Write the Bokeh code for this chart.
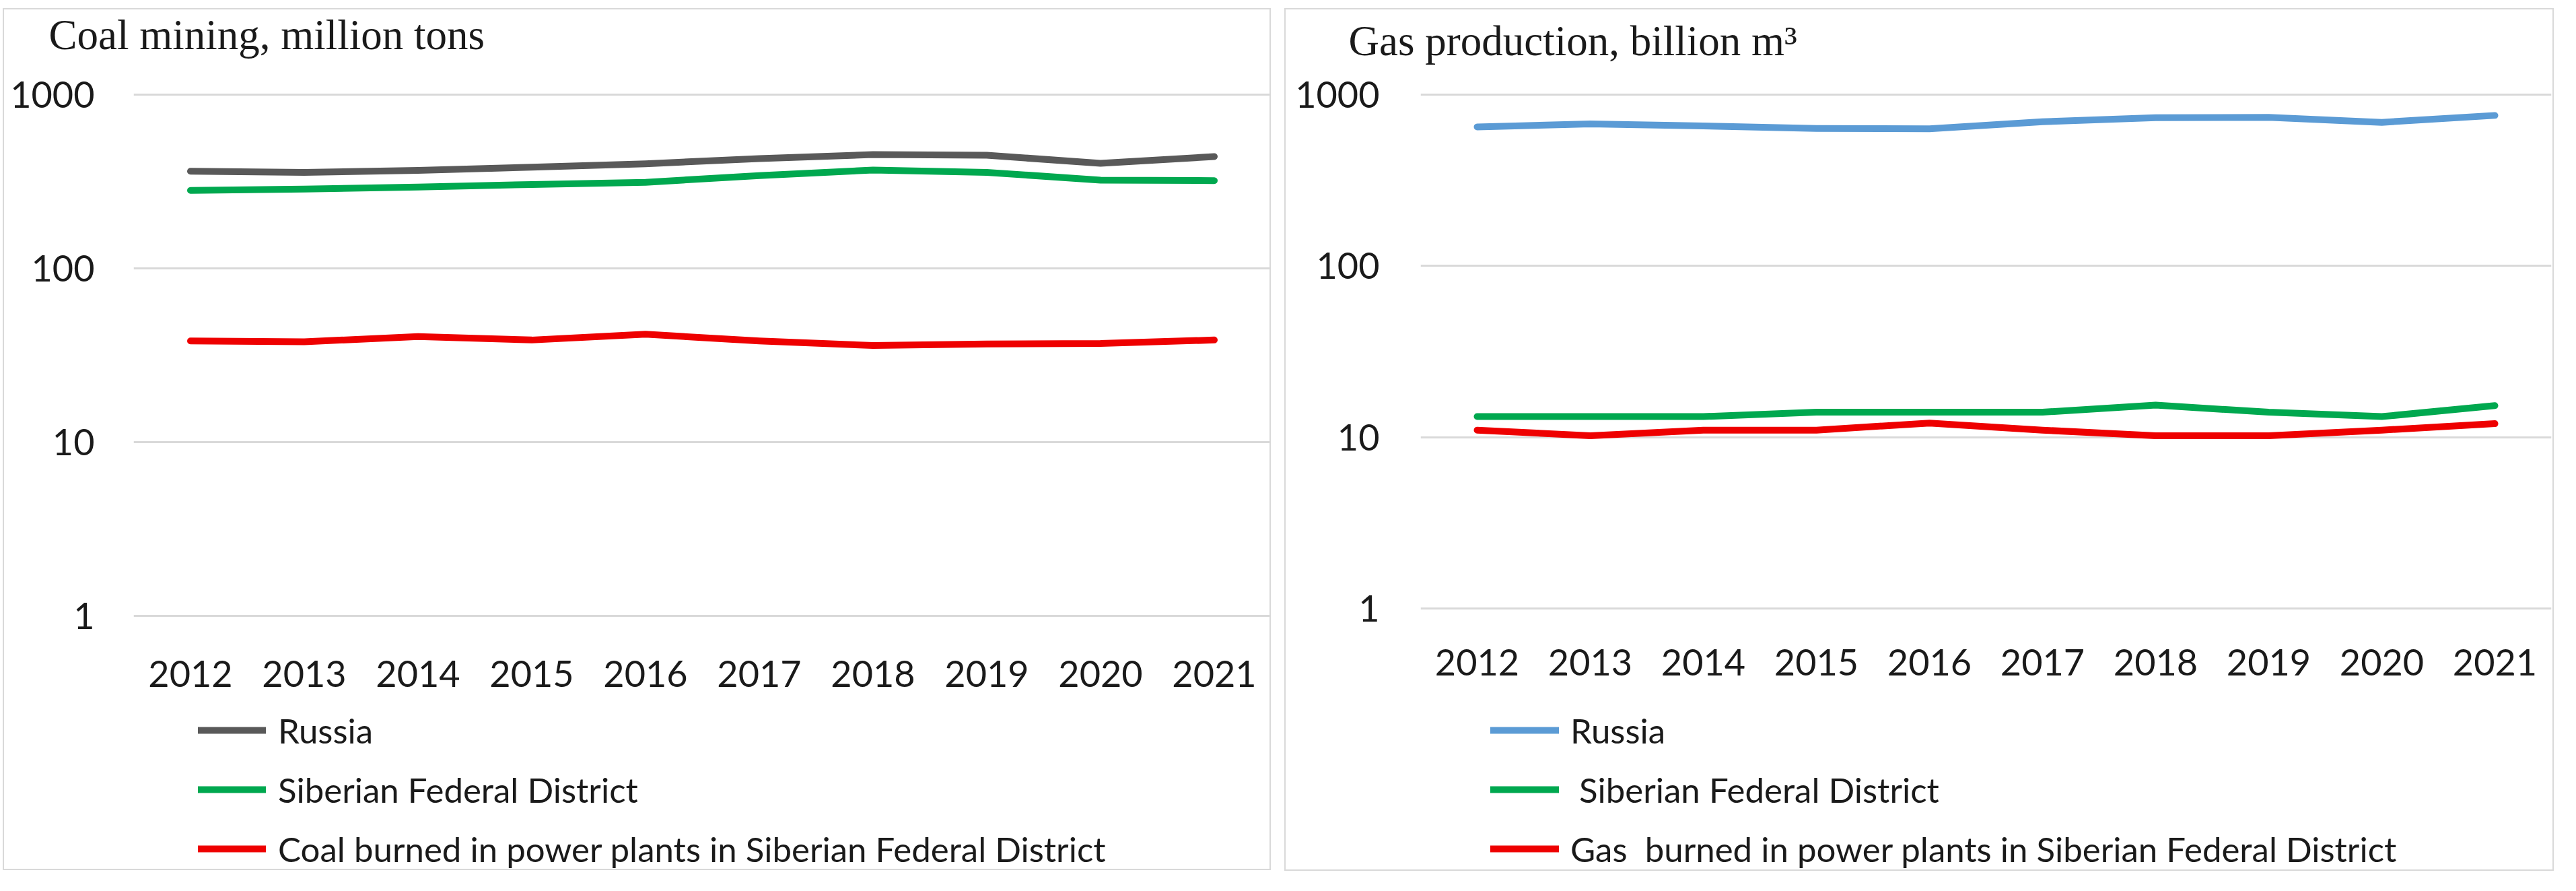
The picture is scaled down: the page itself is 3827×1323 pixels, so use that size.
from bokeh.plotting import figure
from bokeh.models import FactorRange, Range1d, FixedTicker, Legend, LegendItem, Title
from bokeh.layouts import row
from bokeh.embed import file_html
from bokeh.resources import INLINE

years = ["2012", "2013", "2014", "2015", "2016", "2017", "2018", "2019", "2020", "2021"]
y_ticks = [1, 10, 100, 1000]

coal_russia = [362, 357, 366, 382, 400, 428, 452, 448, 402, 440]
coal_siberia = [281, 286, 294, 304, 313, 342, 368, 357, 322, 320]
coal_burned = [38.2, 37.8, 40.5, 38.7, 41.8, 38.2, 36.0, 36.7, 37.0, 38.7]

gas_russia = [648, 674, 656, 634, 632, 694, 733, 736, 689, 756]
gas_siberia = [13.2, 13.2, 13.2, 14.0, 14.0, 14.0, 15.4, 14.0, 13.2, 15.3]
gas_burned = [11.0, 10.2, 11.0, 11.0, 12.1, 11.0, 10.2, 10.2, 11.0, 12.0]

coal_title = "Coal mining, million tons"
gas_title = "Gas production, billion m\u00b3"
coal_labels = ["Russia", "Siberian Federal District",
               "Coal burned in power plants in Siberian Federal District"]
gas_labels = ["Russia", " Siberian Federal District",
              "Gas  burned in power plants in Siberian Federal District"]

coal_colors = ["#595959", "#00a84f", "#ee0000"]
gas_colors = ["#5b9bd5", "#00a84f", "#ee0000"]

TEXT = "#1a1a1a"


def make_panel(title, series, labels, colors, width, height, mb_left, mb_right,
               frame_top, frame_bottom, decade_px, title_offset, spacer_standoff,
               ylab_standoff, xlab_standoff, leg_loc, glyph_w, leg_spacing,
               label_standoff, margin):
    # log range so that 1000 sits 2px below the frame top and the frame
    # continues below y=1 to leave room for the x labels and the legend
    top_pad = 2
    y_hi = 10 ** (3 + top_pad / decade_px)
    px_one = frame_top + top_pad + 3 * decade_px
    y_lo = 10 ** (-(frame_bottom - px_one) / decade_px)

    p = figure(width=width, height=height,
               x_range=FactorRange(factors=years),
               y_axis_type="log", y_range=Range1d(y_lo, y_hi),
               output_backend="svg", toolbar_location=None,
               min_border_left=mb_left, min_border_right=mb_right,
               min_border_top=frame_top, min_border_bottom=height - frame_bottom,
               title=title)
    p.margin = margin
    p.styles = {"border": "2px solid #d9d9d9"}
    p.outline_line_color = None
    p.background_fill_color = "white"
    p.border_fill_color = "white"

    p.title.align = "left"
    p.title.offset = title_offset
    p.title.standoff = 0
    p.title.text_font = "Liberation Serif"
    p.title.text_font_size = "63px"
    p.title.text_font_style = "normal"
    p.title.text_color = TEXT
    spacer = Title(text=" ", text_font_size="1px", standoff=spacer_standoff)
    p.add_layout(spacer, "above")

    renderers = []
    for vals, col in zip(series, colors):
        r = p.line(x=years, y=vals, line_color=col, line_width=10,
                   line_cap="round", line_join="round")
        renderers.append(r)

    p.yaxis.ticker = FixedTicker(ticks=y_ticks, minor_ticks=[])
    p.yaxis.major_label_overrides = {t: str(t) for t in y_ticks}
    for ax in (p.xaxis[0], p.yaxis[0]):
        ax.axis_line_color = None
        ax.major_tick_line_color = None
        ax.minor_tick_line_color = None
        ax.major_tick_out = 0
        ax.major_tick_in = 0
        ax.minor_tick_out = 0
        ax.major_label_text_font = "Lato"
        ax.major_label_text_font_size = "54px"
        ax.major_label_text_color = TEXT
    p.yaxis.major_label_standoff = ylab_standoff
    p.xaxis.major_label_standoff = xlab_standoff
    p.xaxis.fixed_location = 1

    p.xgrid.grid_line_color = None
    p.ygrid.grid_line_color = "#d9d9d9"
    p.ygrid.grid_line_width = 3

    items = [LegendItem(label=lab, renderers=[r]) for lab, r in zip(labels, renderers)]
    leg = Legend(items=items, location=leg_loc, orientation="vertical",
                 glyph_width=glyph_w, glyph_height=64, label_height=64,
                 spacing=leg_spacing, padding=0, margin=0,
                 label_standoff=label_standoff,
                 label_text_font="Lato", label_text_font_size="51px",
                 label_text_color=TEXT, background_fill_alpha=0,
                 border_line_color=None)
    p.add_layout(leg)
    return p


p1 = make_panel(coal_title, [coal_russia, coal_siberia, coal_burned],
                coal_labels, coal_colors,
                width=1884, height=1280, mb_left=192, mb_right=2,
                frame_top=124, frame_bottom=1278, decade_px=258.0,
                title_offset=-126, spacer_standoff=49,
                ylab_standoff=58, xlab_standoff=66, leg_loc=(96, 0),
                glyph_w=101, leg_spacing=24, label_standoff=18,
                margin=(12, 0, 0, 4))

p2 = make_panel(gas_title, [gas_russia, gas_siberia, gas_burned],
                gas_labels, gas_colors,
                width=1886, height=1281, mb_left=200, mb_right=6,
                frame_top=113, frame_bottom=1279, decade_px=256.8,
                title_offset=-107, spacer_standoff=40,
                ylab_standoff=61, xlab_standoff=60, leg_loc=(104, 1),
                glyph_w=102, leg_spacing=24, label_standoff=17,
                margin=(12, 0, 0, 20))

layout = row(p1, p2)
open("out.html", "w").write(file_html(layout, INLINE))
